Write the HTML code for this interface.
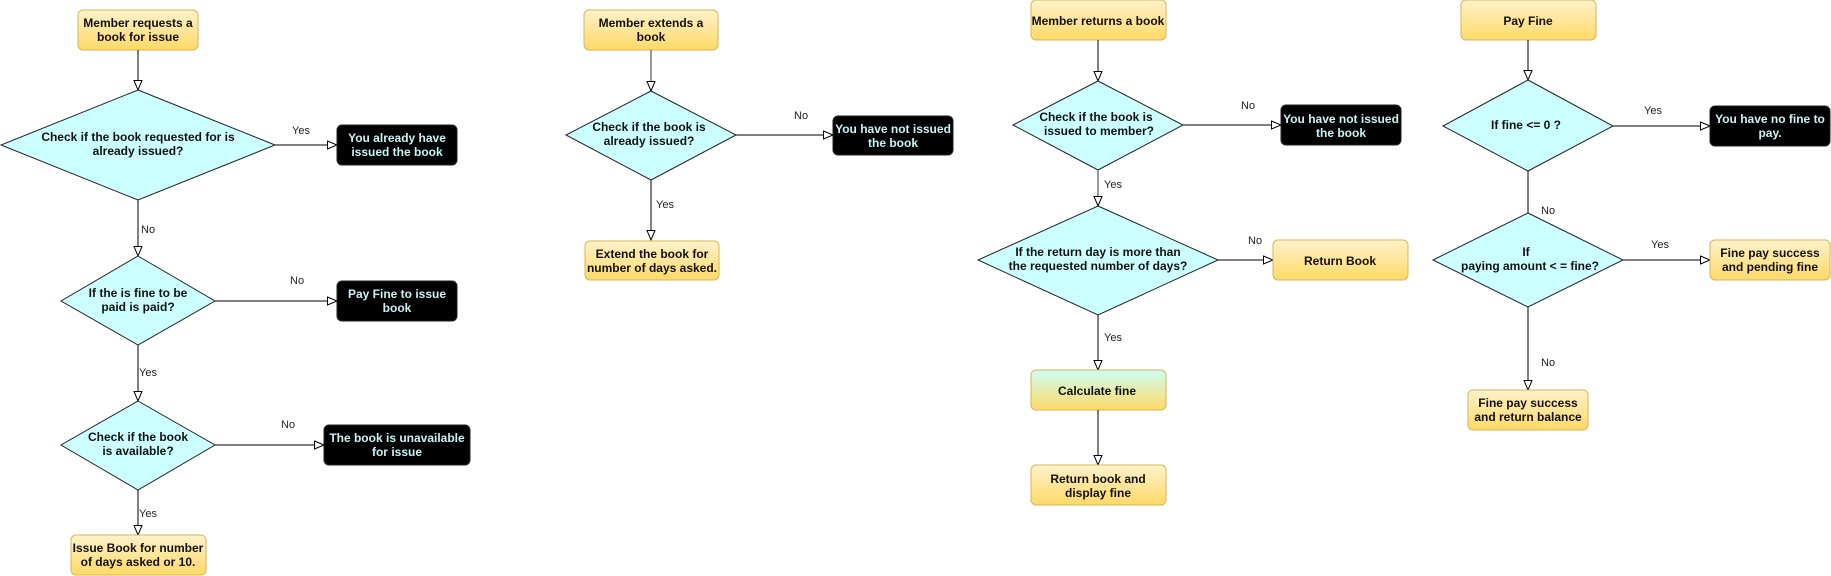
<!DOCTYPE html>
<html><head><meta charset="utf-8"><style>
html,body{margin:0;padding:0;background:#fff;width:1831px;height:576px;overflow:hidden}
svg text{font-family:"Liberation Sans",sans-serif}
.t{font-size:12px;font-weight:bold;fill:#111;text-anchor:middle}
.w{font-size:12px;font-weight:bold;fill:#c8f4f4;text-anchor:middle}
.l{font-size:11px;fill:#222}
.y{fill:url(#gy);stroke:#d6b656;stroke-width:1}
.k{fill:#000;stroke:#222}
.d{fill:#ccffff;stroke:#222;stroke-width:1}
.c{stroke:#000;stroke-width:1;fill:none;marker-end:url(#ar)}
</style></head><body>
<svg width="1831" height="576" xmlns="http://www.w3.org/2000/svg">
<defs>
<linearGradient id="gy" x1="0" y1="0" x2="0" y2="1"><stop offset="0" stop-color="#fff2cc"/><stop offset="1" stop-color="#ffd966"/></linearGradient>
<linearGradient id="gc" x1="0" y1="0" x2="0" y2="1"><stop offset="0" stop-color="#ccfff5"/><stop offset="1" stop-color="#ffd966"/></linearGradient>
<marker id="ar" markerWidth="12" markerHeight="10" refX="10" refY="4.5" orient="auto" markerUnits="userSpaceOnUse"><path d="M0.5,0.5 L10,4.5 L0.5,8.5 Z" fill="#fff" stroke="#000" stroke-width="1"/></marker>
</defs>

<!-- Panel 1 -->
<rect class="y" x="78" y="10" width="120" height="40" rx="5"/>
<text class="t" x="138" y="27">Member requests a</text><text class="t" x="138" y="41">book for issue</text>
<line class="c" x1="138" y1="50" x2="138" y2="90"/>
<polygon class="d" points="138,90 275,145 138,200 1,145"/>
<text class="t" x="138" y="141">Check if the book requested for is</text><text class="t" x="138" y="155">already issued?</text>
<line class="c" x1="275" y1="145" x2="337" y2="145"/>
<text class="l" x="292" y="134">Yes</text>
<rect class="k" x="337" y="125" width="120" height="40" rx="5"/>
<text class="w" x="397" y="142">You already have</text><text class="w" x="397" y="156">issued the book</text>
<line class="c" x1="138" y1="200" x2="138" y2="256"/>
<text class="l" x="141" y="233">No</text>
<polygon class="d" points="138,256 215,301 138,345 61,301"/>
<text class="t" x="138" y="297">If the is fine to be</text><text class="t" x="138" y="311">paid is paid?</text>
<line class="c" x1="215" y1="301" x2="337" y2="301"/>
<text class="l" x="290" y="284">No</text>
<rect class="k" x="337" y="281" width="120" height="40" rx="5"/>
<text class="w" x="397" y="298">Pay Fine to issue</text><text class="w" x="397" y="312">book</text>
<line class="c" x1="138" y1="345" x2="138" y2="401"/>
<text class="l" x="139" y="376">Yes</text>
<polygon class="d" points="138,401 215,445 138,490 61,445"/>
<text class="t" x="138" y="441">Check if the book</text><text class="t" x="138" y="455">is available?</text>
<line class="c" x1="215" y1="445" x2="324" y2="445"/>
<text class="l" x="281" y="428">No</text>
<rect class="k" x="324" y="425" width="146" height="40" rx="5"/>
<text class="w" x="397" y="442">The book is unavailable</text><text class="w" x="397" y="456">for issue</text>
<line class="c" x1="138" y1="490" x2="138" y2="535"/>
<text class="l" x="139" y="517">Yes</text>
<rect class="y" x="71" y="535" width="135" height="40" rx="5"/>
<text class="t" x="138" y="552">Issue Book for number</text><text class="t" x="138" y="566">of days asked or 10.</text>

<!-- Panel 2 -->
<rect class="y" x="584" y="10" width="134" height="40" rx="5"/>
<text class="t" x="651" y="27">Member extends a</text><text class="t" x="651" y="41">book</text>
<line class="c" x1="651" y1="50" x2="651" y2="91" style="stroke:#777;stroke-width:1.5"/>
<polygon class="d" points="651,91 736,135 651,180 566,135"/>
<text class="t" x="649" y="131">Check if the book is</text><text class="t" x="649" y="145">already issued?</text>
<line class="c" x1="736" y1="135" x2="833" y2="135"/>
<text class="l" x="794" y="119">No</text>
<rect class="k" x="833" y="116" width="120" height="39" rx="5"/>
<text class="w" x="893" y="133">You have not issued</text><text class="w" x="893" y="147">the book</text>
<line class="c" x1="651" y1="180" x2="651" y2="240"/>
<text class="l" x="656" y="208">Yes</text>
<rect class="y" x="585" y="241" width="134" height="39" rx="5"/>
<text class="t" x="652" y="258">Extend the book for</text><text class="t" x="652" y="272">number of days asked.</text>

<!-- Panel 3 -->
<rect class="y" x="1031" y="0" width="135" height="40" rx="5"/>
<text class="t" x="1098" y="25">Member returns a book</text>
<line class="c" x1="1098" y1="40" x2="1098" y2="81"/>
<polygon class="d" points="1098,81 1183,125 1098,170 1013,125"/>
<text class="t" x="1096" y="121">Check if the book is</text><text class="t" x="1099" y="135">issued to member?</text>
<line class="c" x1="1183" y1="125" x2="1281" y2="125"/>
<text class="l" x="1241" y="109">No</text>
<rect class="k" x="1281" y="105" width="120" height="40" rx="5"/>
<text class="w" x="1341" y="123">You have not issued</text><text class="w" x="1341" y="137">the book</text>
<line class="c" x1="1098" y1="170" x2="1098" y2="206" style="stroke:#777;stroke-width:1.5"/>
<text class="l" x="1104" y="188">Yes</text>
<polygon class="d" points="1098,206 1218,260 1098,315 978,260"/>
<text class="t" x="1098" y="256">If the return day is more than</text><text class="t" x="1098" y="270">the requested number of days?</text>
<line class="c" x1="1218" y1="260" x2="1273" y2="260"/>
<text class="l" x="1248" y="244">No</text>
<rect class="y" x="1273" y="240" width="135" height="40" rx="5"/>
<text class="t" x="1340" y="265">Return Book</text>
<line class="c" x1="1098" y1="315" x2="1098" y2="370"/>
<text class="l" x="1104" y="341">Yes</text>
<rect x="1031" y="370" width="135" height="40" rx="5" fill="url(#gc)" stroke="#d6b656"/>
<text class="t" x="1097" y="395">Calculate fine</text>
<line class="c" x1="1098" y1="410" x2="1098" y2="465"/>
<rect class="y" x="1031" y="465" width="135" height="40" rx="5"/>
<text class="t" x="1098" y="483">Return book and</text><text class="t" x="1098" y="497">display fine</text>

<!-- Panel 4 -->
<rect class="y" x="1461" y="0" width="135" height="40" rx="5"/>
<text class="t" x="1528" y="25">Pay Fine</text>
<line class="c" x1="1528" y1="40" x2="1528" y2="80"/>
<polygon class="d" points="1528,80 1613,126 1528,171 1443,126"/>
<text class="t" x="1526" y="129">If fine &lt;= 0 ?</text>
<line class="c" x1="1613" y1="126" x2="1710" y2="126"/>
<text class="l" x="1644" y="114">Yes</text>
<rect class="k" x="1710" y="106" width="120" height="40" rx="5"/>
<text class="w" x="1770" y="123">You have no fine to</text><text class="w" x="1770" y="137">pay.</text>
<line x1="1528" y1="171" x2="1528" y2="213" stroke="#000"/>
<text class="l" x="1541" y="214">No</text>
<polygon class="d" points="1528,213 1623,260 1528,307 1433,260"/>
<text class="t" x="1526" y="256">If</text><text class="t" x="1530" y="270">paying amount &lt; = fine?</text>
<line class="c" x1="1623" y1="260" x2="1710" y2="260"/>
<text class="l" x="1651" y="248">Yes</text>
<rect class="y" x="1710" y="240" width="120" height="40" rx="5"/>
<text class="t" x="1770" y="257">Fine pay success</text><text class="t" x="1770" y="271">and pending fine</text>
<line class="c" x1="1528" y1="307" x2="1528" y2="390"/>
<text class="l" x="1541" y="366">No</text>
<rect class="y" x="1468" y="390" width="120" height="40" rx="5"/>
<text class="t" x="1528" y="407">Fine pay success</text><text class="t" x="1528" y="421">and return balance</text>
</svg>
</body></html>
